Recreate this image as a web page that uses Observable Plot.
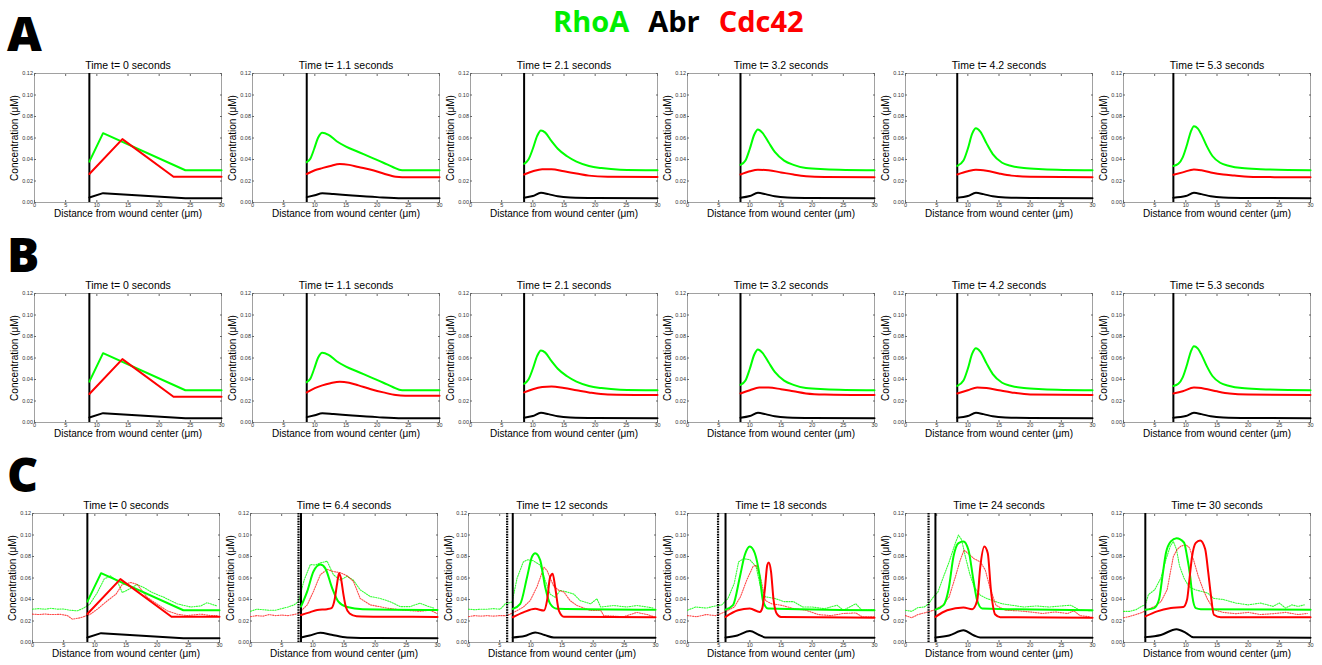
<!DOCTYPE html>
<html>
<head>
<meta charset="utf-8">
<script src="https://cdn.jsdelivr.net/npm/d3@7"></script>
<script src="https://cdn.jsdelivr.net/npm/@observablehq/plot@0.6"></script>
<style>
  html, body { margin: 0; padding: 0; background: white; }
  #root { position: relative; width: 1322px; height: 665px; overflow: hidden; background: white; }
  .letter { position: absolute; font-family: "Open Sans", "Noto Sans", sans-serif; font-weight: 800; font-size: 48px; line-height: 1; color: black; }
  .legend { position: absolute; left: 553px; top: 6px; font-family: "Open Sans", "Noto Sans", sans-serif; font-weight: 700; font-size: 29px; line-height: 1; white-space: nowrap; }
  .legend span { display: inline-block; margin-right: 19px; }
  .panel { position: absolute; }
</style>
</head>
<body>
<div id="root"></div>
<script>
// ---------------- DATA ----------------
const legendNames = ["RhoA", "Abr", "Cdc42"];
const legendColors = ["#00ee00", "#000000", "#ff0000"];
const rowLetters = ["A", "B", "C"];
const timesAB = ["0", "1.1", "2.1", "3.2", "4.2", "5.3"];
const timesC = ["0", "6.4", "12", "18", "24", "30"];
const woundAB = [8.8, 8.7, 8.6, 8.5, 8.3, 8.0];
const woundC = [8.8, 8.1, 7.1, 6.1, 4.8, 3.5];
const woundDataC = [null, 7.7, 6.2, 4.9, 3.7, null];
const xTicks = [0, 5, 10, 15, 20, 25, 30];
const yTicks = [0, 0.02, 0.04, 0.06, 0.08, 0.1, 0.12];
const xLabel = "Distance from wound center (\u03bcm)";
const yLabel = "Concentration (\u03bcM)";

// Rows A and B: RhoA model (same in both rows)
const rhoA_AB = [
  [[8.8,0.038],[11,0.0645],[24.2,0.030],[30,0.030]],
  [[8.7,0.0375],[9.3,0.041],[9.9,0.050],[10.5,0.060],[11.2,0.065],[12.2,0.063],[13.5,0.057],[15,0.052],[17,0.047],[19,0.042],[21,0.037],[22.5,0.033],[24,0.030],[30,0.030]],
  [[8.6,0.036],[9.3,0.040],[10,0.050],[10.7,0.062],[11.3,0.067],[12,0.065],[13,0.057],[14,0.050],[15.5,0.043],[17,0.038],[19,0.034],[21,0.032],[24,0.0305],[30,0.030]],
  [[8.5,0.035],[9.3,0.039],[10,0.050],[10.7,0.063],[11.3,0.068],[12,0.065],[13,0.056],[14,0.047],[15.5,0.039],[17,0.035],[19,0.032],[22,0.031],[30,0.030]],
  [[8.3,0.034],[9.3,0.039],[10,0.050],[10.7,0.064],[11.3,0.069],[12,0.066],[13,0.055],[14,0.045],[15.5,0.037],[17,0.034],[19,0.032],[22,0.031],[30,0.030]],
  [[8.0,0.034],[8.8,0.036],[9.5,0.042],[10.2,0.054],[10.8,0.066],[11.3,0.071],[11.9,0.069],[12.6,0.062],[13.4,0.052],[14.3,0.043],[15.5,0.037],[17,0.034],[19,0.032],[22,0.031],[30,0.030]]
];
// Abr model, rows A and B
const abr_AB = [
  [[8.8,0.0047],[11,0.0087],[24.2,0.004],[30,0.004]],
  [[8.7,0.005],[10,0.0068],[11.2,0.0085],[13,0.0078],[16,0.0065],[20,0.005],[24,0.004],[30,0.004]],
  [[8.6,0.0045],[10,0.006],[11.3,0.009],[12.5,0.0078],[14,0.0058],[16,0.0047],[20,0.0042],[30,0.004]],
  [[8.5,0.0045],[10,0.006],[11.3,0.009],[12.5,0.0078],[14,0.0058],[16,0.0047],[20,0.0042],[30,0.004]],
  [[8.3,0.0045],[10,0.006],[11.3,0.009],[12.5,0.0078],[14,0.0058],[16,0.0047],[20,0.0042],[30,0.004]],
  [[8.0,0.0045],[10,0.006],[11.3,0.009],[12.5,0.0078],[14,0.0058],[16,0.0047],[20,0.0042],[30,0.004]]
];
// Cdc42 model, row A
const cdc42_A = [
  [[8.8,0.0265],[14.1,0.059],[22.3,0.024],[30,0.024]],
  [[8.7,0.0265],[10,0.030],[11.2,0.032],[12.5,0.034],[14,0.0358],[15.5,0.035],[17,0.033],[19,0.0305],[21,0.027],[23,0.024],[24,0.0236],[30,0.0236]],
  [[8.6,0.026],[10,0.029],[11.5,0.031],[13,0.031],[15,0.029],[17,0.027],[19,0.025],[22,0.024],[30,0.0237]],
  [[8.5,0.026],[10,0.029],[11.3,0.0305],[13,0.030],[15,0.028],[17,0.026],[19,0.0245],[22,0.0238],[30,0.0236]],
  [[8.3,0.026],[10,0.029],[11.3,0.0305],[13,0.0295],[15,0.027],[17,0.025],[20,0.024],[30,0.0235]],
  [[8.0,0.0258],[9.5,0.028],[11.3,0.0308],[12.5,0.030],[14,0.028],[16,0.026],[17.8,0.0251],[20,0.024],[24.2,0.0236],[30,0.0235]]
];
// Cdc42 model, row B
const cdc42_B = [
  [[8.8,0.0265],[14.1,0.059],[22.3,0.024],[30,0.024]],
  [[8.7,0.028],[10,0.032],[11.2,0.0345],[12.5,0.0365],[14,0.038],[15.5,0.037],[17,0.0345],[19,0.031],[21,0.028],[23,0.0255],[24.5,0.025],[30,0.025]],
  [[8.6,0.028],[10,0.031],[11.5,0.033],[13,0.0335],[15,0.032],[17,0.030],[19,0.028],[22,0.026],[30,0.0255]],
  [[8.5,0.027],[10,0.030],[11.5,0.0325],[13,0.0325],[15,0.031],[17,0.029],[19,0.027],[22,0.026],[30,0.0255]],
  [[8.3,0.027],[10,0.030],[11.5,0.0325],[13,0.032],[15,0.030],[17,0.028],[20,0.026],[30,0.0255]],
  [[8.0,0.027],[9.5,0.029],[11.3,0.0325],[13,0.0315],[15,0.029],[17,0.027],[20,0.026],[30,0.0255]]
];
// Row C model curves
const rhoA_C = [
  [[8.8,0.038],[11,0.0645],[24.2,0.030],[30,0.030]],
  [[8.1,0.0334],[9.1,0.0475],[10.1,0.066],[11.2,0.0725],[12,0.069],[13.1,0.0506],[14.1,0.038],[15.5,0.033],[18,0.031],[30,0.0303]],
  [[7.1,0.0313],[8.3,0.036],[9.4,0.061],[10.2,0.080],[10.7,0.083],[11.5,0.0767],[12.3,0.0516],[13.1,0.036],[14.2,0.0313],[30,0.0304]],
  [[6.1,0.0306],[7.3,0.0347],[8.4,0.061],[9.2,0.0816],[10,0.0894],[10.8,0.083],[11.6,0.061],[12.1,0.039],[12.9,0.0316],[30,0.030]],
  [[4.8,0.0306],[6.1,0.0347],[6.9,0.049],[7.7,0.080],[8.5,0.0925],[9.3,0.094],[10.1,0.086],[10.9,0.058],[11.5,0.039],[12.3,0.0316],[30,0.030]],
  [[3.5,0.0305],[4.9,0.032],[5.7,0.040],[6.25,0.0616],[6.8,0.083],[7.6,0.094],[8.5,0.097],[9.7,0.093],[10.2,0.080],[10.7,0.0616],[11.05,0.043],[11.6,0.032],[12.4,0.031],[30,0.0305]]
];
const cdc42_C = [
  [[8.8,0.0265],[14.1,0.059],[22.3,0.024],[30,0.024]],
  [[8.1,0.0256],[9.5,0.028],[10.7,0.0303],[12.3,0.031],[13,0.032],[13.5,0.040],[13.9,0.055],[14.2,0.0645],[14.5,0.060],[14.9,0.045],[15.3,0.033],[15.9,0.027],[17,0.0245],[20.8,0.024],[30,0.0238]],
  [[7.1,0.0235],[8.8,0.028],[10.7,0.0313],[12.1,0.0297],[12.6,0.039],[13.1,0.061],[13.5,0.064],[13.9,0.0516],[14.5,0.0297],[15.3,0.024],[30,0.0235]],
  [[6.1,0.0238],[8.1,0.030],[10,0.0316],[11.6,0.0284],[12,0.032],[12.4,0.049],[12.8,0.072],[13.05,0.0745],[13.4,0.066],[13.8,0.040],[14.3,0.027],[15,0.0238],[30,0.0231]],
  [[4.8,0.0238],[6.7,0.030],[9.3,0.0325],[10.7,0.031],[11.5,0.039],[12,0.0706],[12.65,0.0894],[13.2,0.083],[13.7,0.049],[14.4,0.026],[15.2,0.0235],[30,0.0231]],
  [[3.5,0.0243],[5.4,0.029],[7.6,0.032],[9.6,0.033],[10.2,0.040],[10.6,0.060],[11,0.080],[11.6,0.0927],[12.3,0.095],[13.1,0.087],[13.6,0.065],[14,0.045],[14.5,0.0258],[15.6,0.0236],[30,0.0236]]
];
const abr_C = [
  [[8.8,0.0047],[11,0.0087],[24.2,0.004],[30,0.004]],
  [[8.1,0.0047],[9.5,0.0065],[11.2,0.009],[13,0.0072],[15.5,0.0047],[20,0.0041],[30,0.004]],
  [[7.1,0.0047],[9,0.006],[10.7,0.0094],[12.2,0.007],[13.7,0.0047],[30,0.0045]],
  [[6.1,0.0047],[8,0.0065],[10,0.0106],[11.5,0.007],[12.5,0.0047],[30,0.0045]],
  [[4.8,0.0047],[7,0.0065],[9.3,0.0113],[11,0.0065],[12,0.0047],[30,0.0045]],
  [[3.5,0.005],[6,0.007],[8.5,0.0124],[10,0.009],[11.2,0.0048],[30,0.0045]]
];
// Row C measured (dotted) profiles
const rhoA_C_data = [
  [[0,0.031],[1,0.0315],[2,0.031],[3,0.0318],[4,0.031],[5,0.0312],[6,0.030],[7.2,0.0295],[8.2,0.032],[9.2,0.0357],[10.4,0.0465],[11.5,0.059],[12.5,0.062],[13.6,0.057],[14.4,0.0465],[15.5,0.0496],[16.8,0.054],[17.9,0.051],[19.2,0.0465],[21.1,0.042],[23.2,0.036],[25.4,0.033],[27,0.034],[28,0.037],[29.6,0.034]],
  [[0,0.029],[1,0.031],[2,0.0305],[3,0.030],[4,0.030],[5,0.0315],[6,0.033],[7,0.035],[7.7,0.038],[8.6,0.058],[9.6,0.0725],[10.4,0.072],[11.2,0.074],[12.3,0.0756],[13.3,0.063],[14.4,0.058],[15.5,0.0616],[16.5,0.058],[17.6,0.049],[19.2,0.0428],[20.8,0.041],[22.4,0.038],[24,0.0334],[25.6,0.0334],[27.2,0.0366],[28.3,0.034],[29.4,0.032]],
  [[0,0.031],[1,0.0305],[2,0.031],[3,0.031],[4,0.0315],[5.1,0.031],[5.9,0.036],[7,0.0376],[7.8,0.06],[8.8,0.075],[9.5,0.077],[10.4,0.076],[11.5,0.072],[12.3,0.058],[13.1,0.045],[13.9,0.042],[14.7,0.0485],[15.8,0.047],[16.9,0.045],[17.9,0.039],[19.6,0.036],[20.6,0.0407],[21.2,0.033],[23.3,0.0344],[25.4,0.033],[27,0.0344],[28.7,0.033],[29.7,0.032]],
  [[0,0.030],[1.3,0.033],[3,0.032],[4.5,0.034],[5.5,0.035],[6.5,0.041],[7.5,0.055],[8.2,0.075],[9,0.078],[10,0.077],[11,0.0706],[11.7,0.052],[12.5,0.0425],[14,0.041],[15.5,0.038],[17,0.038],[18.5,0.033],[20,0.033],[22,0.0315],[24,0.0347],[25,0.030],[27,0.036],[28,0.030],[30,0.0305]],
  [[0,0.030],[1,0.029],[2,0.0325],[3,0.033],[3.7,0.036],[4.5,0.0425],[5.2,0.047],[6,0.0597],[7,0.075],[8,0.0925],[8.5,0.100],[9,0.0956],[9.6,0.080],[10.3,0.064],[11,0.052],[12,0.044],[13,0.041],[14,0.039],[15.5,0.036],[17,0.0347],[19,0.033],[21,0.034],[23,0.033],[25,0.034],[26.5,0.0347],[28,0.030],[30,0.0295]],
  [[0,0.029],[1,0.029],[2,0.0305],[3,0.034],[3.5,0.035],[4,0.0445],[5,0.049],[6,0.060],[6.8,0.077],[7.5,0.0896],[8,0.094],[8.5,0.0865],[9,0.071],[9.7,0.060],[10.5,0.052],[11.5,0.049],[12.5,0.0476],[13.5,0.046],[14.5,0.041],[16,0.040],[18,0.0367],[20,0.035],[22,0.0367],[24,0.0336],[25,0.0367],[26,0.032],[27,0.035],[28,0.0336],[29,0.035]]
];
const cdc42_C_data = [
  [[0,0.0264],[1,0.026],[2,0.0265],[3,0.026],[4.5,0.0262],[5.6,0.025],[6.4,0.0217],[7.7,0.023],[9.2,0.026],[10.4,0.031],[12,0.0388],[13.4,0.045],[14.4,0.054],[15.8,0.0558],[16.8,0.054],[18.4,0.042],[20,0.0357],[21.6,0.0295],[23.2,0.0264],[24.8,0.025],[27,0.0264],[28.6,0.025],[29.6,0.025]],
  [[0,0.024],[1,0.025],[2,0.0245],[3,0.026],[4,0.025],[5,0.0255],[6,0.025],[7,0.026],[7.7,0.027],[9.1,0.035],[10.1,0.0475],[11.2,0.063],[12.3,0.068],[13.3,0.066],[14.4,0.065],[15.5,0.062],[16.5,0.057],[17.6,0.041],[19.2,0.035],[21.9,0.032],[24.6,0.030],[27.2,0.029],[28.8,0.030],[29.9,0.027]],
  [[0,0.024],[1,0.025],[2,0.0245],[3,0.025],[4,0.0245],[5,0.025],[6.2,0.025],[7.8,0.0297],[8.8,0.033],[9.9,0.039],[11,0.052],[12.1,0.070],[12.6,0.067],[13.7,0.052],[14.5,0.0485],[15.3,0.047],[16.3,0.039],[17.4,0.0344],[19.6,0.0297],[21.2,0.030],[21.7,0.025],[24.9,0.024],[27,0.028],[28.7,0.026],[29.7,0.024]],
  [[0,0.025],[1.5,0.024],[3,0.026],[4.5,0.025],[6,0.0284],[7.5,0.033],[8.5,0.0425],[9.5,0.058],[10.5,0.0706],[11,0.072],[11.7,0.061],[12.5,0.039],[13.5,0.036],[15,0.0347],[17,0.0316],[19,0.030],[21,0.026],[23,0.025],[25,0.027],[27,0.0275],[28,0.024],[30,0.024]],
  [[0,0.025],[1,0.023],[2,0.026],[3,0.0275],[4.5,0.030],[6,0.0347],[7,0.0425],[8,0.061],[8.8,0.077],[9.4,0.086],[10,0.083],[11,0.078],[12,0.075],[12.8,0.0675],[13.5,0.052],[14.5,0.0347],[16,0.030],[18,0.0295],[20,0.0284],[22,0.027],[24,0.0284],[26,0.027],[27,0.0295],[28,0.025],[29.5,0.024]],
  [[0,0.023],[1,0.0243],[2,0.026],[3,0.028],[4,0.031],[5,0.0336],[6,0.038],[7,0.049],[7.5,0.0647],[8,0.080],[8.6,0.0865],[9.2,0.0896],[10,0.091],[10.6,0.088],[11.3,0.0756],[12,0.0616],[12.8,0.049],[13.5,0.040],[14.5,0.0305],[16,0.028],[18,0.0268],[20,0.028],[22,0.026],[24,0.0268],[26,0.028],[28,0.026],[29.5,0.027]]
];

// ---------------- LAYOUT ----------------
const GREEN = "#00ff00", RED = "#ff0000", BLACK = "#000000";
const FRAME_W = 187, FRAME_H = 129;
const M = {left: 32, right: 3, top: 16, bottom: 20};
const rowTops = [73, 293, 513];
const rowLeft0 = [34, 34, 32];
const rowStep = [217.8, 217.8, 218.2];
const letterTops = [8.5, 229.5, 449.5];

const root = document.getElementById("root");

// legend
const leg = document.createElement("div");
leg.className = "legend";
legendNames.forEach((n, i) => {
  const s = document.createElement("span");
  s.textContent = n;
  s.style.color = legendColors[i];
  leg.appendChild(s);
});
root.appendChild(leg);

// row letters
rowLetters.forEach((L, r) => {
  const d = document.createElement("div");
  d.className = "letter";
  d.textContent = L;
  d.style.left = "7px";
  d.style.top = letterTops[r] + "px";
  root.appendChild(d);
});

const X = d => d[0], Y = d => d[1];

function panel(opts) {
  const {time, wound, woundData, rho, abr, cdc, rhoData, cdcData, curve} = opts;
  const marks = [
    Plot.frame({stroke: "#8a8a8a", strokeWidth: 0.8}),
    Plot.axisX({ticks: xTicks, tickSize: -2, tickPadding: 3, fontSize: 5.5, label: null, stroke: "#666", fill: "#333"}),
    Plot.axisY({ticks: yTicks, tickSize: -2, tickPadding: 3.5, fontSize: 5.5, label: null, stroke: "#666", fill: "#333"}),
    Plot.axisX({anchor: "top", ticks: xTicks, tickSize: -2, tickFormat: () => "", label: null, stroke: "#666"}),
    Plot.axisY({anchor: "right", ticks: yTicks, tickSize: -2, tickFormat: () => "", label: null, stroke: "#666"})
  ];
  if (rhoData) marks.push(Plot.line(rhoData, {x: X, y: Y, stroke: GREEN, strokeWidth: 1.1, strokeDasharray: "1.2,1.3", strokeOpacity: 0.8}));
  if (cdcData) marks.push(Plot.line(cdcData, {x: X, y: Y, stroke: RED, strokeWidth: 1.1, strokeDasharray: "1.2,1.3", strokeOpacity: 0.7}));
  if (woundData != null) marks.push(Plot.ruleX([woundData], {stroke: BLACK, strokeWidth: 2.2, strokeDasharray: "1.6,1"}));
  marks.push(Plot.ruleX([wound], {stroke: BLACK, strokeWidth: 2}));
  marks.push(Plot.line(rho, {x: X, y: Y, stroke: GREEN, strokeWidth: 2, curve}));
  marks.push(Plot.line(cdc, {x: X, y: Y, stroke: RED, strokeWidth: 2, curve}));
  marks.push(Plot.line(abr, {x: X, y: Y, stroke: BLACK, strokeWidth: 2, curve}));
  marks.push(Plot.text([`Time t= ${time} seconds`], {text: d => d, frameAnchor: "top", lineAnchor: "bottom", dy: -4.5, fontSize: 10.5, fill: "black"}));
  marks.push(Plot.text([xLabel], {text: d => d, frameAnchor: "bottom", lineAnchor: "top", dy: 7.5, fontSize: 10, fill: "black"}));
  marks.push(Plot.text([yLabel], {text: d => d, frameAnchor: "left", rotate: -90, textAnchor: "middle", lineAnchor: "middle", dx: -20, fontSize: 10, fill: "black"}));
  return Plot.plot({
    width: M.left + FRAME_W + M.right,
    height: M.top + FRAME_H + M.bottom,
    marginLeft: M.left, marginRight: M.right, marginTop: M.top, marginBottom: M.bottom,
    x: {domain: [0, 30]},
    y: {domain: [0, 0.12]},
    style: {background: "transparent", overflow: "visible", fontFamily: "'Liberation Sans', Arial, sans-serif"},
    marks
  });
}

for (let r = 0; r < 3; r++) {
  for (let i = 0; i < 6; i++) {
    let opts;
    const curve = i === 0 ? "linear" : "monotone-x";
    if (r < 2) {
      opts = {time: timesAB[i], wound: woundAB[i], woundData: null, rho: rhoA_AB[i], abr: abr_AB[i],
              cdc: r === 0 ? cdc42_A[i] : cdc42_B[i], curve};
    } else {
      opts = {time: timesC[i], wound: woundC[i], woundData: woundDataC[i], rho: rhoA_C[i], abr: abr_C[i],
              cdc: cdc42_C[i], rhoData: rhoA_C_data[i], cdcData: cdc42_C_data[i], curve};
    }
    const svg = panel(opts);
    const wrap = document.createElement("div");
    wrap.className = "panel";
    wrap.style.left = (rowLeft0[r] + i * rowStep[r] - M.left) + "px";
    wrap.style.top = (rowTops[r] - M.top) + "px";
    wrap.appendChild(svg);
    root.appendChild(wrap);
  }
}
</script>
</body>
</html>
